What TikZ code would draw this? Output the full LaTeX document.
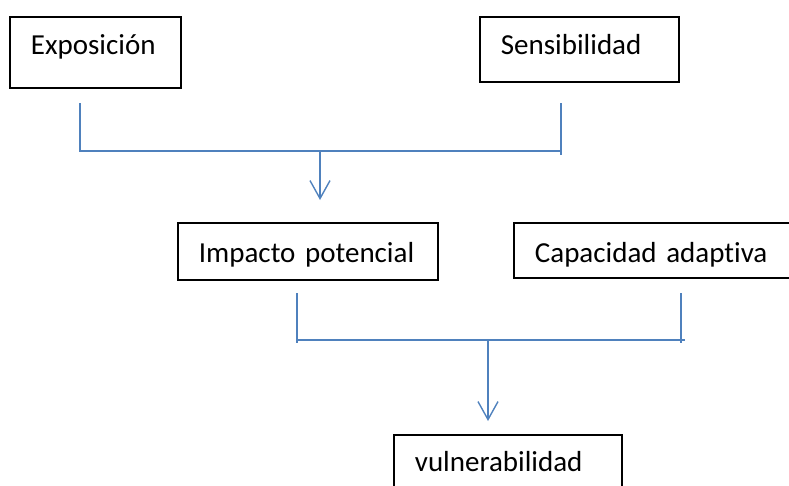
\documentclass[tikz,border=0pt]{standalone}
\usepackage{fontspec}
\setmainfont{Carlito}[Ligatures=NoCommon]
\usepackage{xcolor}
\usetikzlibrary{arrows.meta}
\definecolor{lineblue}{RGB}{79,129,189}

\begin{document}
\begin{tikzpicture}[x=1pt, y=-1pt,
	box/.style={draw, line width=1.8pt, anchor=north west, align=left, inner sep=0pt,
		font=\fontsize{29}{34}\selectfont, execute at begin node={\hspace*{21pt}}},
	link/.style={draw=lineblue, line width=1.4pt},
	tip/.style={-{Straight Barb[length=18pt, width=20pt, line width=1.4pt]}}]
	\clip (0,0) rectangle (789,485);

	\node[box, text width=171pt, text height=38pt, text depth=33pt] (expo) at (9,16) {Exposición};
	\node[box, text width=199pt, text height=38pt, text depth=27pt] (sens) at (479,16) {Sensibilidad};
	\node[box, text width=260pt, text height=40pt, text depth=17pt] (impacto) at (177,222) {Impacto potencial};
	\node[box, text width=300pt, text height=40pt, text depth=15pt] (capacidad) at (513,222) {Capacidad adaptiva};
	\node[box, text width=228pt, text height=37pt, text depth=40pt] (vulner) at (393,434) {vulnerabilidad};

	% upper bracket
	\coordinate (expo-in) at (80,103);
	\coordinate (sens-in) at (561,103);
	\coordinate (top-join) at (320,151);
	\coordinate (impacto-tip) at (320,200);
	\draw[link] (expo-in) -- (expo-in |- top-join) -- (sens-in |- top-join);
	\draw[link] (sens-in) -- ++(0,52);
	\draw[link, tip] (top-join) -- (impacto-tip);

	% lower bracket
	\coordinate (impacto-in) at (297,293);
	\coordinate (capacidad-in) at (681,293);
	\coordinate (low-join) at (488,340);
	\coordinate (vulner-tip) at (488,421);
	\draw[link] (impacto-in) -- ++(0,50);
	\draw[link] (capacidad-in) -- ++(0,50);
	\draw[link] (impacto-in |- low-join) -- ++(388,0);
	\draw[link, tip] (low-join) -- (vulner-tip);
\end{tikzpicture}
\end{document}
